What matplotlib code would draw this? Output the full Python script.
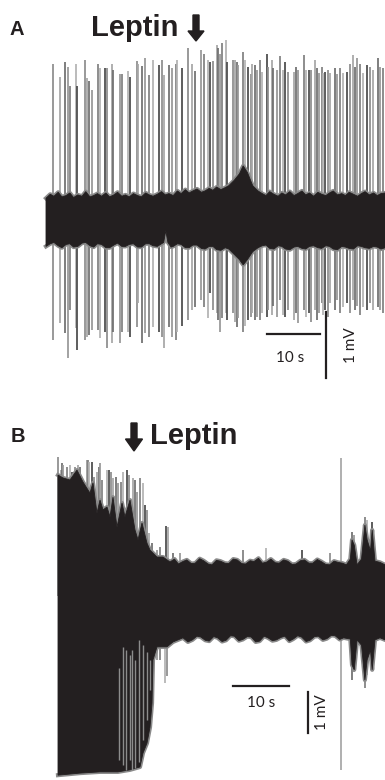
import matplotlib
matplotlib.use('Agg')
import matplotlib.pyplot as plt
import numpy as np
from matplotlib.patches import FancyArrow

# ---- panel A: spontaneous firing, leptin applied ~30 s ----
# spike times (s), positive peak (mV), negative peak (mV)
a_spk_t = [1.26, 2.64, 3.58, 4.09, 4.47, 5.66, 5.91, 7.36, 7.80, 8.18, 8.62, 9.87, 10.19, 11.13, 11.57,
           12.39, 12.70, 13.96, 14.40, 15.53, 15.85, 17.11, 17.42, 18.05, 18.68, 19.43, 20.25, 21.32,
           21.94, 22.26, 23.27, 23.71, 24.46, 24.78, 25.60, 26.73, 27.48, 28.11, 29.25, 29.81, 30.63,
           30.94, 31.57, 32.33, 32.52, 32.83, 33.14, 33.90, 34.09, 35.35, 35.66, 35.97, 36.29, 37.23,
           37.55, 38.17, 38.62, 38.93, 39.43, 39.75, 40.38, 40.69, 41.64, 41.95, 42.58, 42.89, 43.52,
           44.15, 44.78, 45.16, 45.72, 46.85, 47.17, 47.61, 48.68, 49.06, 49.69, 49.94, 50.75, 51.07,
           51.51, 52.01, 52.33, 52.64, 53.27, 53.58, 54.53, 54.84, 55.47, 56.10, 56.73, 57.36, 57.98,
           58.30, 58.62, 59.25, 59.87, 60.50, 61.13, 61.75, 62.58, 63.02, 63.64]
a_spk_up = [2.37, 2.16, 2.40, 2.32, 2.03, 2.36, 2.03, 2.43, 2.15, 2.11, 1.97, 2.37, 2.30, 2.30, 2.30,
            2.36, 2.27, 2.21, 2.21, 2.26, 2.16, 2.41, 2.37, 2.34, 2.45, 2.20, 2.42, 2.35,
            2.43, 2.20, 2.35, 2.30, 2.37, 2.43, 2.30, 2.61, 2.37, 2.26, 2.58, 2.52, 2.42,
            2.39, 2.41, 2.65, 2.60, 2.52, 2.68, 2.72, 2.40, 2.43, 2.42, 2.40, 2.35, 2.55,
            2.42, 2.32, 2.21, 2.37, 2.35, 2.27, 2.43, 2.25, 2.52, 2.32, 2.43, 2.30, 2.27,
            2.48, 2.27, 2.40, 2.25, 2.25, 2.32, 2.27, 2.50, 2.27, 2.27, 2.27, 2.43, 2.30,
            2.22, 2.32, 2.22, 2.25, 2.27, 2.22, 2.30, 2.21, 2.30, 2.23, 2.25, 2.37, 2.50,
            2.32, 2.45, 2.36, 2.22, 2.35, 2.32, 2.27, 2.45, 2.32, 2.30]
a_spk_dn = [-1.82, -1.56, -1.71, -2.09, -1.36, -1.64, -1.97, -1.82, -1.77, -1.74, -1.67, -1.67, -1.79,
            -1.70, -1.94, -1.86, -1.70, -1.86, -1.70, -1.70, -1.77, -1.62, -1.26, -1.86, -1.71, -1.77,
            -1.62, -1.70, -1.77, -1.94, -1.62, -1.77, -1.82, -1.70, -1.60, -1.52, -1.36, -1.32, -1.21,
            -1.32, -1.48, -1.11, -1.36, -1.41, -1.52, -1.70, -1.48, -1.41, -1.52, -1.41, -1.55, -1.62,
            -1.48, -1.70, -1.60, -1.52, -1.47, -1.41, -1.52, -1.47, -1.52, -1.41, -1.47, -1.36, -1.44,
            -1.30, -1.47, -1.21, -1.44, -1.47, -1.36, -1.52, -1.41, -1.56, -1.36, -1.47, -1.41, -1.55,
            -1.36, -1.52, -1.41, -1.26, -1.44, -1.36, -1.47, -1.26, -1.36, -1.21, -1.41, -1.32, -1.26,
            -1.41, -1.21, -1.36, -1.30, -1.44, -1.32, -1.36, -1.26, -1.36, -1.32, -1.36, -1.41]

# noise band envelope (s, mV)
a_top_t = [0, 0.8, 1.5, 2.3, 3, 3.8, 4.5, 5.2, 6, 6.8, 7.5, 8.3, 9, 9.7, 10.5, 11.3, 12, 12.8, 13.5,
           14.3, 15, 15.7, 16.5, 17.3, 18, 18.8, 19.5, 20.2, 21, 21.8, 22.5, 23.2, 24, 24.8, 25.5,
           26.3, 27, 27.7, 28.5, 29.3, 30, 30.8, 31.5, 32.2, 33, 33.8, 34.5, 35.5, 36.5, 37.2, 38,
           39, 40, 40.8, 41.5, 42.2, 43, 43.8, 44.5, 45.2, 46, 46.8, 47.5, 48.3, 49, 49.7, 50.5,
           51.3, 52, 52.8, 53.5, 54.2, 55, 55.8, 56.5, 57.2, 58, 58.8, 59.5, 60.2, 61, 61.8, 62.5,
           63.2, 64]
a_top_v = [0.33, 0.39, 0.36, 0.42, 0.35, 0.37, 0.41, 0.34, 0.38, 0.36, 0.43, 0.35, 0.37, 0.40, 0.36,
           0.41, 0.35, 0.38, 0.42, 0.36, 0.38, 0.35, 0.40, 0.37, 0.35, 0.41, 0.38, 0.36, 0.39, 0.43,
           0.38, 0.40, 0.37, 0.44, 0.40, 0.46, 0.41, 0.44, 0.47, 0.42, 0.44, 0.48, 0.45, 0.50, 0.46,
           0.49, 0.52, 0.60, 0.70, 0.82, 0.72, 0.52, 0.44, 0.40, 0.37, 0.43, 0.39, 0.36, 0.41, 0.38,
           0.43, 0.37, 0.40, 0.44, 0.38, 0.41, 0.36, 0.42, 0.39, 0.37, 0.41, 0.44, 0.38, 0.40, 0.37,
           0.42, 0.39, 0.36, 0.40, 0.43, 0.38, 0.41, 0.37, 0.40, 0.41]
a_bot_t = [0, 0.8, 1.5, 2.3, 3, 3.8, 4.5, 5.2, 6, 6.8, 7.5, 8.3, 9, 9.7, 10.5, 11.3, 12, 12.8, 13.5,
           14.3, 15, 15.7, 16.5, 17.3, 18, 18.8, 19.5, 20.2, 21, 21.6, 22.2, 22.6, 23.0, 23.6, 24,
           24.8, 25.5, 26.3, 27, 27.7, 28.5, 29.3, 30, 30.8, 31.5, 32.2, 33, 33.8, 34.5, 35.5, 36.5,
           37.2, 38, 39, 40, 40.8, 41.5, 42.2, 43, 43.8, 44.5, 45.2, 46, 46.8, 47.5, 48.3, 49, 49.7,
           50.5, 51.3, 52, 52.8, 53.5, 54.2, 55, 55.8, 56.5, 57.2, 58, 58.8, 59.5, 60.2, 61, 61.8,
           62.5, 63.2, 64]
a_bot_v = [-0.40, -0.36, -0.34, -0.39, -0.42, -0.37, -0.36, -0.41, -0.40, -0.35, -0.34, -0.39, -0.41,
           -0.36, -0.37, -0.42, -0.42, -0.38, -0.35, -0.40, -0.40, -0.37, -0.36, -0.41, -0.41, -0.36,
           -0.36, -0.39, -0.40, -0.37, -0.34, -0.16, -0.34, -0.41, -0.40, -0.36, -0.37, -0.42, -0.42,
           -0.38, -0.38, -0.43, -0.44, -0.40, -0.40, -0.45, -0.46, -0.42, -0.44, -0.52, -0.60, -0.68,
           -0.60, -0.48, -0.42, -0.39, -0.38, -0.43, -0.44, -0.39, -0.40, -0.44, -0.45, -0.41, -0.40,
           -0.43, -0.44, -0.40, -0.39, -0.42, -0.43, -0.39, -0.40, -0.44, -0.45, -0.40, -0.41, -0.43,
           -0.44, -0.39, -0.40, -0.42, -0.43, -0.40, -0.41, -0.44, -0.42]

# ---- panel B: bursting activity suppressed by leptin ----
b_spk_t = [0.05, 0.48, 0.66, 0.95, 1.55, 2.14, 2.45, 3.04, 3.63, 3.93, 5.23, 5.41, 5.59, 6.02, 6.43,
           6.91, 7.32, 7.50, 7.80, 8.80, 9.11, 9.46, 9.88, 10.36, 10.77, 11.25, 11.55, 12.27, 12.73,
           13.34, 13.75, 14.16, 14.64, 15.13, 15.54, 15.84, 16.30, 16.73, 17.63, 18.21, 19.11, 19.29,
           19.41, 19.59, 20.59, 21.79, 33.04, 37.14, 43.57, 48.57, 50.48, 52.50, 52.86, 54.82, 55.18,
           56.07]
b_spk_up = [3.39, 3.07, 3.24, 3.20, 3.15, 3.20, 3.02, 3.15, 3.20, 3.15, 3.32, 3.32, 3.27, 3.27, 2.90,
            3.02, 3.15, 3.24, 2.83, 3.07, 3.07, 3.02, 2.88, 2.90, 2.76, 2.78, 3.02, 3.07, 2.95,
            2.88, 2.83, 2.54, 2.88, 2.76, 2.22, 2.10, 1.54, 1.29, 1.12, 1.20, 0.0, 1.71,
            0.0, 1.68, 1.05, 1.05, 1.12, 1.17, 1.12, 1.05, 3.37, 1.56, 1.49, 1.93, 1.85,
            1.80]
b_spk_dn = [0.0, -4.24, 0.0, 0.0, 0.0, 0.0, 0.0, 0.0, 0.0, 0.0, 0.0, 0.0, 0.0, 0.0, 0.0,
            0.0, 0.0, 0.0, 0.0, 0.0, 0.0, 0.0, 0.0, 0.0, 0.0, 0.0, 0.0, 0.0, 0.0,
            0.0, 0.0, 0.0, 0.0, 0.0, 0.0, 0.0, 0.0, 0.0, -1.56, -1.56, -2.12, 0.0,
            -1.95, 0.0, 0.0, 0.0, 0.0, 0.0, 0.0, 0.0, -4.24, -2.05, -1.85, -2.24, -1.93,
            -1.80]

# gray spikes visible inside the dense burst (s, mV from, mV to)
b_in_t = [10.95, 11.66, 12.14, 12.86, 13.16, 13.75, 14.52, 15.13, 15.84, 16.43]
b_in_v1 = [-1.76, -1.24, -1.32, -1.44, -1.32, -1.56, -1.07, -1.20, -1.37, -1.56]
b_in_v2 = [-4.00, -4.12, -4.24, -4.00, -4.24, -4.20, -4.05, -3.51, -3.02, -2.29]

b_top_t = [0, 0.89, 2.14, 3.39, 4.46, 5.71, 6.25, 6.96, 7.5, 8.04, 8.75, 9.29, 9.82, 10.54, 11.43,
           11.96, 12.86, 13.75, 14.29, 15.0, 15.89, 16.43, 17.68, 18.75, 20.0, 20.8, 21.5, 22.3, 23,
           23.8, 24.5, 25.3, 26, 26.8, 27.5, 28.3, 29, 29.8, 30.5, 31.3, 32, 32.8, 33.5, 34.3, 35,
           35.8, 36.5, 37.3, 38, 38.8, 39.5, 40.3, 41, 41.8, 42.5, 43.3, 44, 44.8, 45.5, 46.3, 47,
           47.8, 48.5, 49.3, 50, 50.8, 51.5, 52.2, 52.5, 52.9, 53.4, 54.2, 54.8, 55.2, 55.8, 56.1,
           56.6, 57.5, 58.4]
b_top_v = [2.95, 2.88, 2.83, 3.07, 2.78, 2.51, 2.76, 2.02, 2.34, 2.10, 2.17, 1.93, 2.41, 1.68, 2.27,
           1.93, 2.34, 1.61, 1.37, 1.78, 1.29, 1.12, 0.95, 0.95, 0.83, 0.90, 0.78, 0.84, 0.88,
           0.79, 0.80, 0.91, 0.86, 0.78, 0.76, 0.87, 0.85, 0.80, 0.79, 0.90, 0.88, 0.79, 0.78, 0.86,
           0.84, 0.92, 0.80, 0.83, 0.90, 0.81, 0.80, 0.88, 0.85, 0.77, 0.78, 0.86, 0.88, 0.80, 0.80,
           0.89, 0.84, 0.77, 0.76, 0.85, 0.82, 0.80, 0.76, 0.90, 1.37, 1.24, 0.76, 0.90, 1.73, 1.37,
           1.10, 1.61, 0.85, 0.82, 0.76]
b_bot_t = [0, 3.93, 7.5, 10.7, 12.86, 14.64, 15.18, 15.89, 16.43, 16.79, 16.96, 17.68, 19.46, 20.54,
           22.32, 23.2, 24, 24.8, 25.5, 26.3, 27, 27.8, 28.5, 29.3, 30, 30.8, 31.5, 32.3, 33, 33.8,
           34.5, 35.3, 36, 36.8, 37.5, 38.3, 39, 39.8, 40.5, 41.3, 42, 42.8, 43.5, 44.3, 45, 45.8,
           46.5, 47.3, 48, 48.8, 49.5, 50.3, 51, 52.2, 52.5, 52.9, 53.4, 54.2, 54.8, 55.2, 55.8,
           56.1, 56.6, 57.5, 58.4]
b_bot_v = [-4.37, -4.32, -4.29, -4.29, -4.24, -4.17, -3.83, -3.59, -3.20, -2.61, -1.56, -1.24, -1.24,
           -1.12, -1.02, -1.12, -1.07, -0.98, -1.00, -1.08, -1.10, -0.99, -1.02, -1.11, -1.08, -0.97,
           -0.98, -1.09, -1.06, -0.99, -1.00, -1.12, -1.10, -0.98, -1.02, -1.09, -1.07, -1.01, -0.98,
           -1.10, -1.05, -0.97, -1.00, -1.11, -1.08, -0.99, -0.98, -1.07, -1.04, -0.96, -0.97, -1.06,
           -1.02, -1.05, -1.68, -1.80, -1.07, -1.20, -2.05, -1.56, -1.32, -1.80, -1.07, -1.02, -1.07]

core = '#231f20'
shades = ['#8c8c8c', '#a6a6a6', '#6e6e6e', '#979797', '#808080', '#b2b2b2', '#4a4a4a']
txt_font = ['Lato', 'DejaVu Sans']
head_font = ['Liberation Sans', 'DejaVu Sans']

fig = plt.figure(figsize=(3.85, 7.8), dpi=100)

# overlay in pixel units for panel letters and leptin markers
ov = fig.add_axes([0, 0, 1, 1])
ov.set_xlim(0, 385)
ov.set_ylim(780, 0)
ov.axis('off')
ov.text(10, 35, 'A', fontsize=14.5, fontweight='bold', family=head_font, color=core)
ov.text(91, 36, 'Leptin', fontsize=21, fontweight='bold', family=head_font, color=core)
ov.add_patch(FancyArrow(196, 15, 0, 26, width=6, head_width=16, head_length=10,
                        length_includes_head=True, color=core))
ov.text(11, 442, 'B', fontsize=14.5, fontweight='bold', family=head_font, color=core)
ov.text(150, 444, 'Leptin', fontsize=21, fontweight='bold', family=head_font, color=core)
ov.add_patch(FancyArrow(134, 423, 0, 28, width=6, head_width=17, head_length=12,
                        length_includes_head=True, color=core))


def trace(ax, spk_t, spk_up, spk_dn, top_t, top_v, bot_t, bot_v):
    cols = [shades[i % len(shades)] for i in range(len(spk_t))]
    ax.vlines(spk_t, spk_dn, spk_up, colors=cols, lw=1.25, zorder=1)
    ax.plot(top_t, top_v, color='#8a8a8a', lw=3.0, zorder=2)
    ax.plot(bot_t, bot_v, color='#8a8a8a', lw=3.0, zorder=2)
    ax.fill(np.r_[top_t, bot_t[::-1]], np.r_[top_v, bot_v[::-1]], color=core, lw=0.6,
            ec=core, zorder=3)


# panel A axes: 0..64 s, mV
axA = fig.add_axes([46 / 385, 0.5, 339 / 385, 360 / 780])
axA.set_xlim(0, 63.96)
axA.set_ylim(-2.576, 2.879)
axA.axis('off')
trace(axA, a_spk_t, a_spk_up, a_spk_dn, a_top_t, a_top_v, a_bot_t, a_bot_v)
axA.plot([41.7, 51.7], [-1.727, -1.727], color=core, lw=1.6, clip_on=False)
axA.plot([52.8, 52.8], [-1.394, -2.394], color=core, lw=1.6, clip_on=False)
axA.text(46.1, -2.09, '10 s', fontsize=11, family=txt_font, ha='center', va='center', color=core)
axA.text(57.5, -1.89, '1 mV', fontsize=11, family=txt_font, ha='center', va='center',
         rotation=90, color=core)

# panel B axes
axB = fig.add_axes([58 / 385, 0.0, 327 / 385, 340 / 780])
axB.set_xlim(0, 58.39)
axB.set_ylim(-4.488, 3.805)
axB.axis('off')
trace(axB, b_spk_t, b_spk_up, b_spk_dn, b_top_t, b_top_v, b_bot_t, b_bot_v)
axB.vlines(b_in_t, b_in_v1, b_in_v2, colors='#8c8c8c', lw=1.0, zorder=4)
axB.plot([31.25, 41.25], [-2.195, -2.195], color=core, lw=1.6, clip_on=False)
axB.plot([44.64, 44.64], [-2.341, -3.341], color=core, lw=1.6, clip_on=False)
axB.text(36.3, -2.62, '10 s', fontsize=11, family=txt_font, ha='center', va='center', color=core)
axB.text(47.2, -2.84, '1 mV', fontsize=11, family=txt_font, ha='center', va='center',
         rotation=90, color=core)

for a in (axA, axB):
    for art in a.get_children():
        try:
            art.set_clip_on(False)
        except Exception:
            pass

fig.savefig('out.png', dpi=100)
